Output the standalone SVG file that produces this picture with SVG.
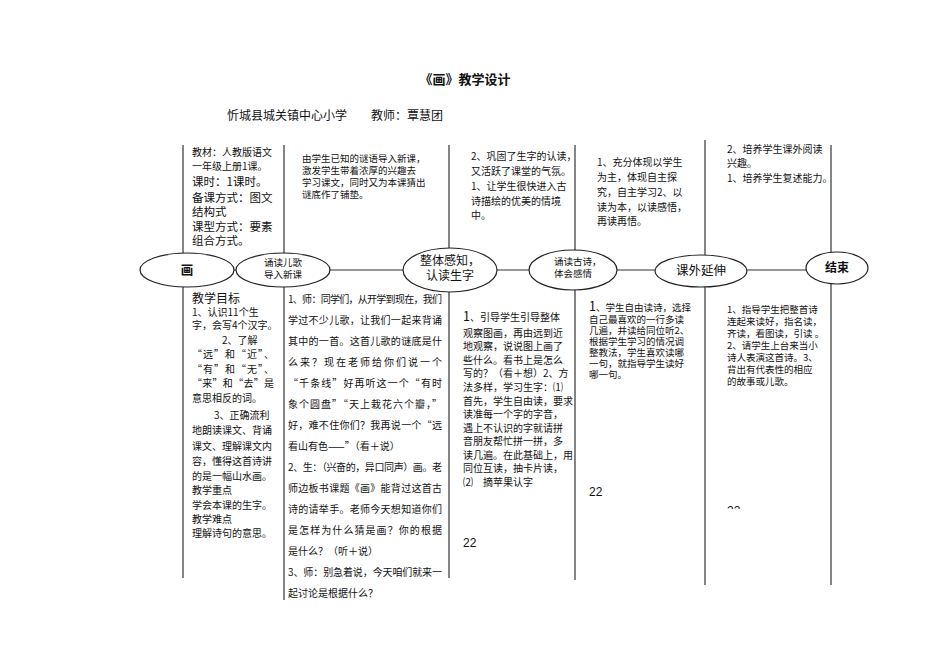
<svg xmlns="http://www.w3.org/2000/svg" width="950" height="672" viewBox="0 0 950 672">
<style>
text{font-family:"Noto Sans CJK SC","Liberation Serif",serif;fill:#111;font-size:10.5px}
.s{font-size:9.5px}
.t{font-size:10px}
.u{font-size:11.5px}
.m{font-size:12.5px}
.b{font-weight:bold}
.ln{stroke:#333;stroke-width:1.2;fill:none}
.el{fill:#fff;stroke:#222;stroke-width:1.2}
.n{font-family:"Liberation Sans",sans-serif;font-size:12px}
</style>
<defs><clipPath id="cp"><rect x="700" y="440" width="130" height="69"/></clipPath></defs>
<rect width="950" height="672" fill="#fff"/>
<text x="465" y="84" text-anchor="middle" class="b" style="font-size:13px">《画》教学设计</text>
<text x="227" y="120" style="font-size:12px">忻城县城关镇中心小学　　教师：覃慧团</text>
<g id="connectors">
<line class="ln" x1="183" y1="145" x2="183" y2="578"/>
<line class="ln" x1="284" y1="145" x2="284" y2="600"/>
<line class="ln" x1="449" y1="145" x2="449" y2="578"/>
<line class="ln" x1="575" y1="145" x2="575" y2="580"/>
<line class="ln" x1="705" y1="140" x2="705" y2="585"/>
<line class="ln" x1="831" y1="145" x2="831" y2="585"/>
<line class="ln" x1="230" y1="270" x2="807" y2="270"/>
</g>
<g id="n1"><ellipse class="el" cx="187" cy="270" rx="47" ry="17"/><text x="187" y="275" text-anchor="middle" class="b m">画</text></g>
<g id="n2"><ellipse class="el" cx="283" cy="270" rx="47" ry="17"/><text x="283" y="266" text-anchor="middle" class="s">诵读儿歌</text><text x="283" y="278" text-anchor="middle" class="s">导入新课</text></g>
<g id="n3"><ellipse class="el" cx="450" cy="270" rx="47" ry="22"/><text x="450" y="265" text-anchor="middle" style="font-size:12px">整体感知，</text><text x="450" y="280" text-anchor="middle" style="font-size:12px">认读生字</text></g>
<g id="n4"><ellipse class="el" cx="573" cy="270" rx="44" ry="20"/><text x="554" y="265" class="s">诵读古诗，</text><text x="554" y="277" class="s">体会感情</text></g>
<g id="n5"><ellipse class="el" cx="701" cy="271" rx="46" ry="16"/><text x="701" y="275" text-anchor="middle" class="m">课外延伸</text></g>
<g id="n6"><ellipse class="el" cx="837" cy="268" rx="31" ry="16"/><text x="837" y="272" text-anchor="middle" class="b" style="font-size:12px">结束</text></g>
<g id="c1top">
<text x="192" y="156" class="t">教材：人教版语文</text>
<text x="192" y="170" class="t">一年级上册1课。</text>
<text x="192" y="186" class="u">课时：1课时。</text>
<text x="192" y="202" class="u">备课方式：图文</text>
<text x="192" y="216" class="u">结构式</text>
<text x="192" y="231" class="u">课型方式：要素</text>
<text x="192" y="245" class="u">组合方式。</text>
</g>
<g id="c2top">
<text x="302" y="162" class="s">由学生已知的谜语导入新课，</text>
<text x="302" y="174" class="s">激发学生带着浓厚的兴趣去</text>
<text x="302" y="186" class="s">学习课文，同时又为本课猜出</text>
<text x="302" y="198" class="s">谜底作了铺垫。</text>
</g>
<g id="c3top">
<text x="471" y="160" class="t">2、巩固了生字的认读，</text>
<text x="471" y="175" class="t">又活跃了课堂的气氛。</text>
<text x="471" y="190" class="t">1、让学生很快进入古</text>
<text x="471" y="205" class="t">诗描绘的优美的情境</text>
<text x="471" y="219" class="t">中。</text>
</g>
<g id="c4top">
<text x="597" y="166" class="t">1、充分体现以学生</text>
<text x="597" y="181" class="t">为主，体现自主探</text>
<text x="597" y="196" class="t">究，自主学习2、以</text>
<text x="597" y="211" class="t">读为本，以读感悟，</text>
<text x="597" y="225" class="t">再读再悟。</text>
</g>
<g id="c5top">
<text x="727" y="153" class="t">2、培养学生课外阅读</text>
<text x="727" y="167" class="t">兴趣。</text>
<text x="727" y="182" class="t">1、培养学生复述能力。</text>
</g>
<g id="c1bot">
<text x="192" y="303" style="font-size:12px">教学目标</text>
<text x="192" y="316" class="t">1、认识11个生</text>
<text x="192" y="329" class="t">字，会写4个汉字。</text>
<text x="222" y="344" class="t">2、了解</text>
<text x="192" y="358" class="t" textLength="82">“远”和“近”、</text>
<text x="192" y="373" class="t" textLength="82">“有”和“无”、</text>
<text x="192" y="387" class="t" textLength="82">“来”和“去”是</text>
<text x="192" y="402" class="t">意思相反的词。</text>
<text x="214" y="419" class="t">3、正确流利</text>
<text x="192" y="434" class="t">地朗读课文、背诵</text>
<text x="192" y="450" class="t">课文、理解课文内</text>
<text x="192" y="465" class="t">容，懂得这首诗讲</text>
<text x="192" y="480" class="t">的是一幅山水画。</text>
<text x="192" y="494" class="t">教学重点</text>
<text x="192" y="509" class="t">学会本课的生字。</text>
<text x="192" y="523" class="t">教学难点</text>
<text x="192" y="537" class="t">理解诗句的意思。</text>
</g>
<g id="c2bot">
<text x="288" y="303" class="t" textLength="154">1、师：同学们，从开学到现在，我们</text>
<text x="288" y="324" class="t" textLength="154">学过不少儿歌，让我们一起来背诵</text>
<text x="288" y="345" class="t" textLength="154">其中的一首。这首儿歌的谜底是什</text>
<text x="288" y="366" class="t" textLength="154">么来？现在老师给你们说一个</text>
<text x="288" y="387" class="t" textLength="154">“千条线”好再听这一个“有时</text>
<text x="288" y="408" class="t" textLength="154">象个圆盘”“天上栽花六个瓣，”</text>
<text x="288" y="429" class="t" textLength="154">好，难不住你们？我再说一个“远</text>
<text x="288" y="450" class="t">看山有色——”（看＋说）</text>
<text x="288" y="471" class="t" textLength="154">2、生：（兴奋的，异口同声）画。老</text>
<text x="288" y="492" class="t" textLength="154">师边板书课题《画》能背过这首古</text>
<text x="288" y="513" class="t" textLength="154">诗的请举手。老师今天想知道你们</text>
<text x="288" y="534" class="t" textLength="154">是怎样为什么猜是画？你的根据</text>
<text x="288" y="555" class="t">是什么？（听＋说）</text>
<text x="288" y="576" class="t" textLength="154">3、师：别急着说，今天咱们就来一</text>
<text x="288" y="597" class="t">起讨论是根据什么？</text>
</g>
<g id="c3bot">
<text x="463" y="321" class="t"><tspan class="m">1</tspan>、引导学生引导整体</text>
<text x="463" y="337" class="t">观察图画，再由远到近</text>
<text x="463" y="350" class="t">地观察，说说图上画了</text>
<text x="463" y="364" class="t">些什么。看书上是怎么</text>
<text x="463" y="377" class="t">写的？（看＋想）2、方</text>
<text x="463" y="391" class="t">法多样，学习生字：⑴</text>
<text x="463" y="405" class="t">首先，学生自由读，要求</text>
<text x="463" y="418" class="t">读准每一个字的字音，</text>
<text x="463" y="432" class="t">遇上不认识的字就请拼</text>
<text x="463" y="445" class="t">音朋友帮忙拼一拼，多</text>
<text x="463" y="459" class="t">读几遍。在此基础上，用</text>
<text x="463" y="472" class="t">同位互读，抽卡片读，</text>
<text x="463" y="486" class="t">⑵　摘苹果认字</text>
<text x="463" y="547" class="n">22</text>
</g>
<g id="c4bot">
<text x="589" y="311" class="s"><tspan class="m">1</tspan>、学生自由读诗，选择</text>
<text x="589" y="323" class="s">自己最喜欢的一行多读</text>
<text x="589" y="334" class="s">几遍，并读给同位听2、</text>
<text x="589" y="345" class="s">根据学生学习的情况调</text>
<text x="589" y="356" class="s">整教法，学生喜欢读哪</text>
<text x="589" y="367" class="s">一句，就指导学生读好</text>
<text x="589" y="378" class="s">哪一句。</text>
<text x="589" y="496" class="n">22</text>
</g>
<g id="c5bot">
<text x="727" y="313" class="s">1、指导学生把整首诗</text>
<text x="727" y="325" class="s">连起来读好，指名读，</text>
<text x="727" y="337" class="s">齐读，看图读，引读 。</text>
<text x="727" y="349" class="s">2、请学生上台来当小</text>
<text x="727" y="361" class="s">诗人表演这首诗。3、</text>
<text x="727" y="373" class="s">背出有代表性的相应</text>
<text x="727" y="385" class="s">的故事或儿歌。</text>
<text x="727" y="515" class="n" clip-path="url(#cp)">22</text>
</g>
</svg>
